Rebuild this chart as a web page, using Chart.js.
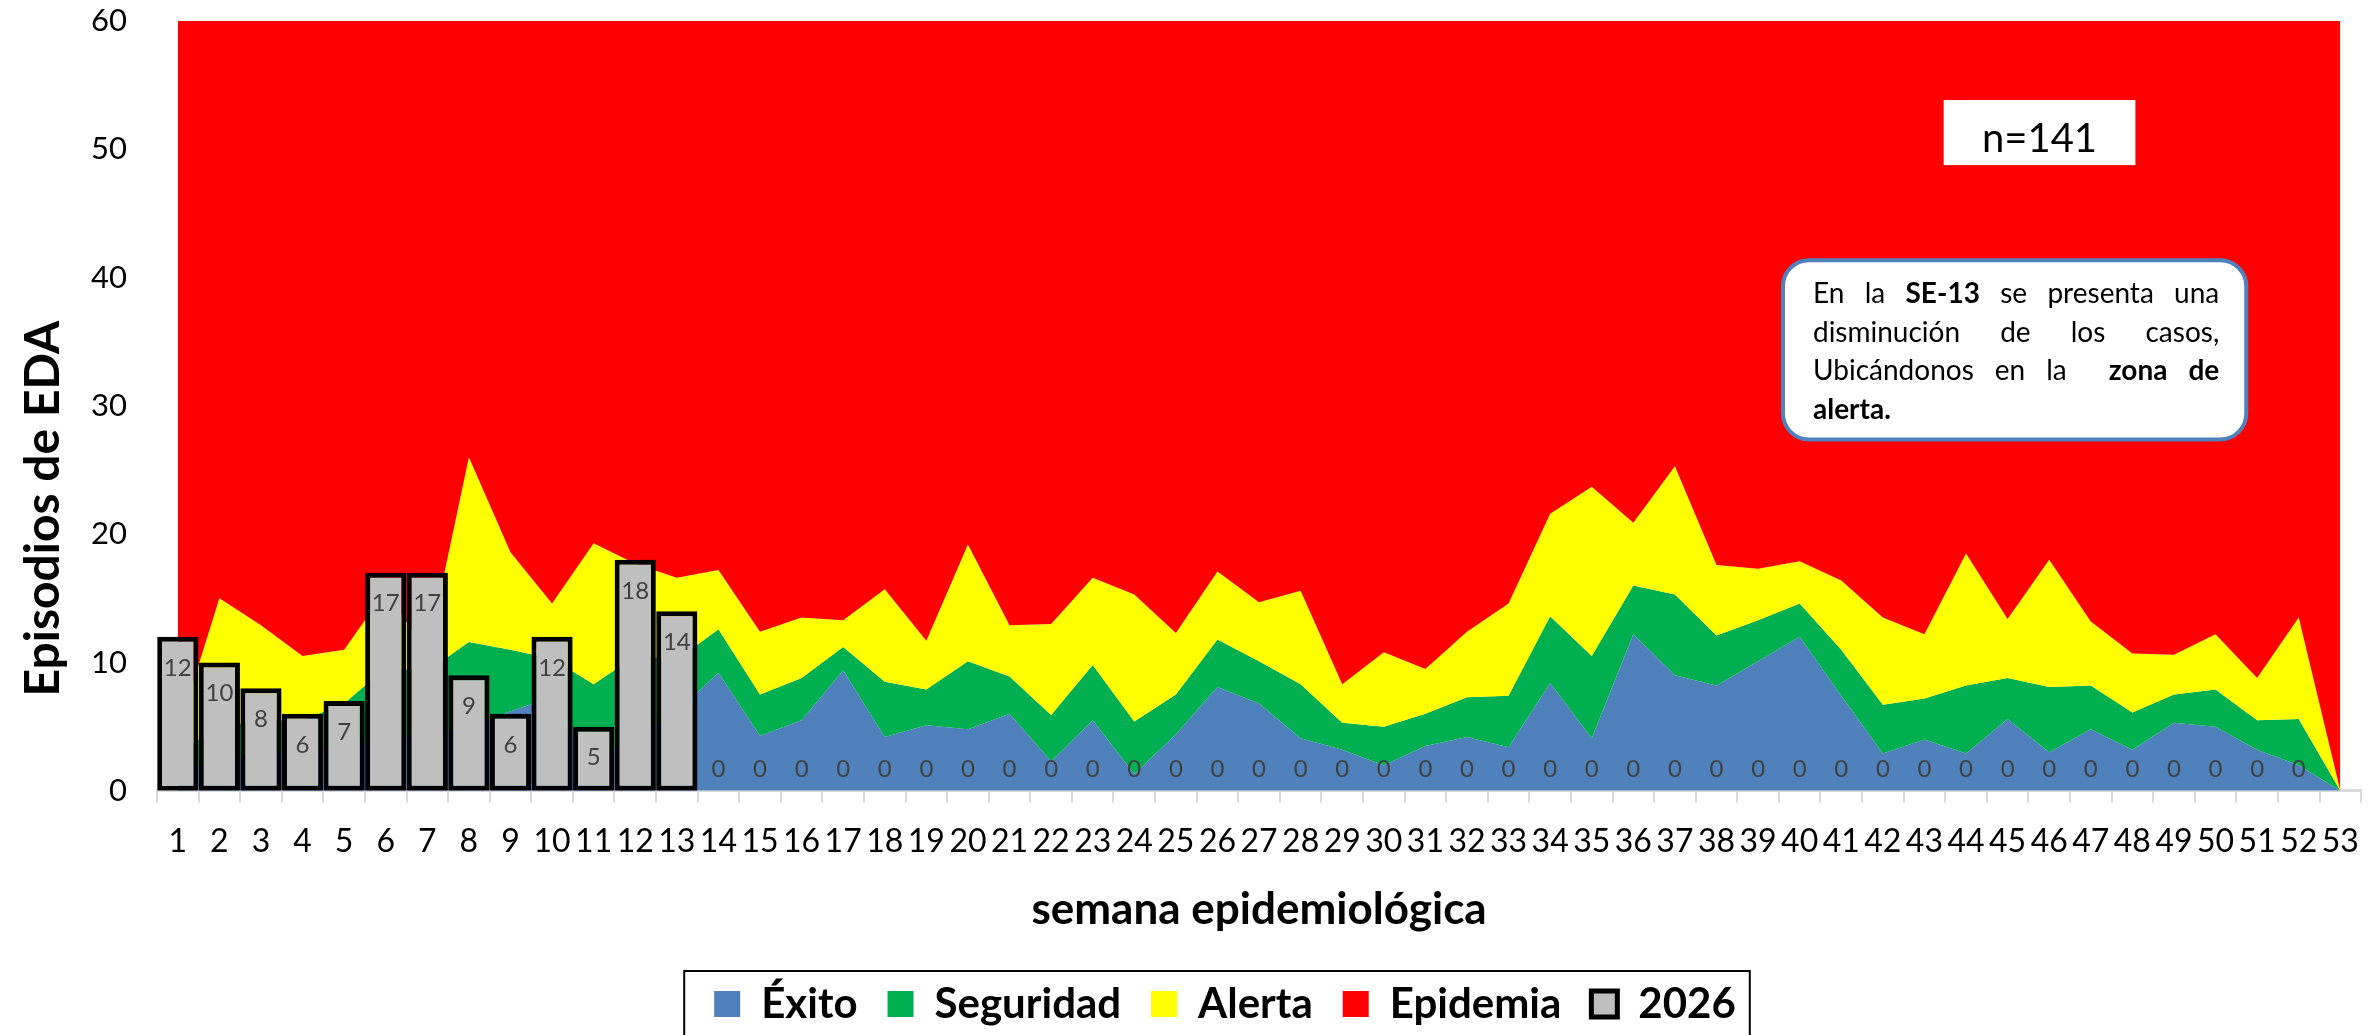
<!DOCTYPE html>
<html>
<head>
<meta charset="utf-8">
<script src="https://cdn.jsdelivr.net/npm/chart.js@4.4.1/dist/chart.umd.min.js"></script>
<style>
html, body { margin: 0; padding: 0; background: #fff; }
#wrap { width: 2379px; height: 1035px; position: relative; }
</style>
</head>
<body>
<div id="wrap"><canvas id="myChart"></canvas></div>
<script>
// semanas epidemiologicas 1..53
var semanas = ['1','2','3','4','5','6','7','8','9','10','11','12','13','14','15','16','17','18','19','20',
  '21','22','23','24','25','26','27','28','29','30','31','32','33','34','35','36','37','38','39','40',
  '41','42','43','44','45','46','47','48','49','50','51','52','53'];

// casos 2026 (barras)
var casos2026 = [12, 10, 8, 6, 7, 17, 17, 9, 6, 12, 5, 18, 14,
  0, 0, 0, 0, 0, 0, 0, 0, 0, 0, 0, 0, 0, 0, 0, 0, 0, 0, 0, 0, 0, 0, 0, 0, 0, 0,
  0, 0, 0, 0, 0, 0, 0, 0, 0, 0, 0, 0, 0, null];

// limites superiores de cada zona del canal endemico
var exito = [1.5, 2.5, 3.0, 3.0, 3.5, 4.0, 4.5, 5.0, 6.2, 7.3, 2.3, 4.5, 6.2, 9.2, 4.3, 5.5, 9.4, 4.2, 5.1, 4.8,
  6.0, 2.3, 5.5, 1.3, 4.4, 8.1, 6.8, 4.1, 3.2, 2.0, 3.5, 4.2, 3.4, 8.4, 4.1, 12.2, 9.0, 8.2, 10.1, 12.0,
  7.4, 2.9, 4.0, 2.9, 5.6, 3.0, 4.8, 3.2, 5.3, 5.0, 3.2, 2.0, 0];
var seguridad = [3.0, 5.0, 5.5, 5.5, 6.8, 9.6, 9.3, 11.6, 11.0, 10.3, 8.3, 10.5, 10.2, 12.6, 7.5, 8.8, 11.2, 8.5, 7.9, 10.1,
  8.9, 5.9, 9.8, 5.4, 7.5, 11.8, 10.1, 8.3, 5.3, 5.0, 6.0, 7.3, 7.4, 13.6, 10.5, 16.0, 15.3, 12.1, 13.3, 14.6,
  11.0, 6.7, 7.2, 8.2, 8.8, 8.1, 8.2, 6.1, 7.5, 7.9, 5.5, 5.6, 0];
var alerta = [4.6, 15.0, 12.9, 10.5, 11.0, 15.6, 10.7, 26.0, 18.6, 14.6, 19.3, 17.7, 16.6, 17.2, 12.4, 13.5, 13.3, 15.7, 11.7, 19.2,
  12.9, 13.0, 16.6, 15.3, 12.3, 17.1, 14.7, 15.6, 8.3, 10.8, 9.5, 12.4, 14.6, 21.6, 23.7, 20.9, 25.3, 17.6, 17.3, 17.9,
  16.4, 13.5, 12.2, 18.5, 13.4, 18.0, 13.2, 10.7, 10.6, 12.2, 8.8, 13.5, 0];
var epidemia = [60, 60, 60, 60, 60, 60, 60, 60, 60, 60, 60, 60, 60, 60, 60, 60, 60, 60, 60, 60,
  60, 60, 60, 60, 60, 60, 60, 60, 60, 60, 60, 60, 60, 60, 60, 60, 60, 60, 60, 60,
  60, 60, 60, 60, 60, 60, 60, 60, 60, 60, 60, 60, 60];

var yMin = 0, yMax = 60, yStep = 10;

var totalTexto = 'n=141';
var notaLineas = [
  [['En', 0], ['la', 0], ['SE-13', 1], ['se', 0], ['presenta', 0], ['una', 0]],
  [['disminución', 0], ['de', 0], ['los', 0], ['casos,', 0]],
  [['Ubicándonos', 0], ['en', 0], ['la', 0], ['', 0], ['zona', 1], ['de', 1]],
  [['alerta.', 1]]
];

Chart.defaults.font.family = 'Lato, "Open Sans", sans-serif';
Chart.defaults.color = '#000';

// numeros dentro de las barras
var etiquetasBarras = {
  id: 'etiquetasBarras',
  afterDatasetsDraw: function (chart) {
    var ctx = chart.ctx;
    var meta = chart.getDatasetMeta(4);
    ctx.save();
    ctx.font = '24px Lato';
    ctx.fillStyle = '#404040';
    ctx.textAlign = 'center';
    ctx.textBaseline = 'middle';
    meta.data.forEach(function (bar, i) {
      var v = casos2026[i];
      if (v === null) return;
      var y = v > 0 ? bar.y + 31 : bar.base - 22;
      ctx.fillText(String(v), bar.x, y);
    });
    ctx.restore();
  }
};

function lineaJustificada(ctx, palabras, x0, x1, y, ultima) {
  var fs = '28px Lato';
  var anchos = palabras.map(function (p) {
    ctx.font = (p[1] ? 'bold ' : '') + fs;
    return ctx.measureText(p[0]).width;
  });
  var suma = anchos.reduce(function (a, b) { return a + b; }, 0);
  var huecos = palabras.length - 1;
  ctx.font = fs;
  var esp = (ultima || huecos === 0) ? ctx.measureText(' ').width : (x1 - x0 - suma) / huecos;
  var x = x0;
  palabras.forEach(function (p, i) {
    ctx.font = (p[1] ? 'bold ' : '') + fs;
    ctx.fillText(p[0], x, y);
    x += anchos[i] + esp;
  });
}

function rectRedondo(ctx, x, y, w, h, r) {
  ctx.beginPath();
  ctx.moveTo(x + r, y);
  ctx.lineTo(x + w - r, y);
  ctx.arcTo(x + w, y, x + w, y + r, r);
  ctx.lineTo(x + w, y + h - r);
  ctx.arcTo(x + w, y + h, x + w - r, y + h, r);
  ctx.lineTo(x + r, y + h);
  ctx.arcTo(x, y + h, x, y + h - r, r);
  ctx.lineTo(x, y + r);
  ctx.arcTo(x, y, x + r, y, r);
  ctx.closePath();
}

var notas = {
  id: 'notas',
  afterDraw: function (chart) {
    var ctx = chart.ctx;
    var a = chart.chartArea;
    var w = a.right - a.left, h = a.bottom - a.top;
    ctx.save();

    // caja n=141
    var bx = a.left + 0.8106 * w, by = a.top + 0.1027 * h, bw = 0.087 * w, bh = 0.0845 * h;
    ctx.fillStyle = '#fff';
    ctx.fillRect(bx, by, bw, bh);
    ctx.fillStyle = '#000';
    ctx.font = '40px Lato';
    ctx.textAlign = 'center';
    ctx.textBaseline = 'alphabetic';
    ctx.fillText(totalTexto, bx + bw / 2, by + 52);

    // cuadro de texto
    var cx = a.left + 0.7377 * w, cy = a.top + 0.3108 * h;
    var cw = 0.2102 * w, ch = 0.2328 * h;
    rectRedondo(ctx, cx, cy, cw, ch, 26);
    ctx.fillStyle = '#fff';
    ctx.fill();
    ctx.lineWidth = 4;
    ctx.strokeStyle = '#4f81bd';
    ctx.stroke();
    ctx.fillStyle = '#000';
    ctx.textAlign = 'left';
    notaLineas.forEach(function (linea, i) {
      lineaJustificada(ctx, linea, cx + 30, cx + cw - 27, cy + 43 + i * 38.5, i === notaLineas.length - 1);
    });

    // titulo eje y
    ctx.save();
    ctx.translate(59, a.top + 0.6335 * h);
    ctx.rotate(-Math.PI / 2);
    ctx.font = 'bold 48px Lato';
    ctx.textAlign = 'center';
    ctx.textBaseline = 'alphabetic';
    ctx.fillText('Episodios de EDA', 0, 0);
    ctx.restore();

    // marco de la leyenda
    var hb = chart.legend.legendHitBoxes;
    if (hb && hb.length) {
      var l = hb[0].left, r = hb[hb.length - 1].left + hb[hb.length - 1].width;
      var mid = hb[0].top + hb[0].height / 2;
      ctx.lineWidth = 2;
      ctx.strokeStyle = '#000';
      ctx.strokeRect(l - 30, mid - 33, (r - l) + 44, 100);
    }
    ctx.restore();
  }
};

var ctx = document.getElementById('myChart').getContext('2d');
var myChart = new Chart(ctx, {
  type: 'bar',
  data: {
    labels: semanas,
    datasets: [
      { type: 'line', label: 'Éxito', data: exito, backgroundColor: '#4f81bd', borderColor: '#4f81bd',
        borderWidth: 0, pointRadius: 0, fill: 'origin', order: 4, tension: 0 },
      { type: 'line', label: 'Seguridad', data: seguridad, backgroundColor: '#00b050', borderColor: '#00b050',
        borderWidth: 0, pointRadius: 0, fill: '-1', order: 3, tension: 0 },
      { type: 'line', label: 'Alerta', data: alerta, backgroundColor: '#ffff00', borderColor: '#ffff00',
        borderWidth: 0, pointRadius: 0, fill: '-1', order: 2, tension: 0 },
      { type: 'line', label: 'Epidemia', data: epidemia, backgroundColor: '#ff0000', borderColor: '#ff0000',
        borderWidth: 0, pointRadius: 0, fill: '-1', order: 1, tension: 0 },
      { type: 'bar', label: '2026', data: casos2026, backgroundColor: '#bfbfbf', borderColor: '#000',
        borderWidth: 5, borderSkipped: false, barPercentage: 0.99, categoryPercentage: 1.0, order: 0 }
    ]
  },
  options: {
    responsive: true,
    maintainAspectRatio: false,
    animation: false,
    layout: { padding: { left: 86, right: 15, top: 21, bottom: 0 } },
    scales: {
      x: {
        offset: true,
        grid: { display: true, drawOnChartArea: false, drawTicks: true, tickLength: 12, color: '#d9d9d9', lineWidth: 2, offset: true },
        border: { display: true, color: '#d9d9d9', width: 3 },
        ticks: { autoSkip: false, maxRotation: 0, padding: 20, font: { size: 32 }, color: '#000' },
        title: { display: true, text: 'semana epidemiológica', font: { size: 44, weight: 'bold' }, color: '#000', padding: { top: 2, bottom: 17 } }
      },
      y: {
        min: yMin,
        max: yMax,
        grid: { display: false },
        border: { display: false },
        ticks: { stepSize: yStep, padding: 22, font: { size: 31 }, color: '#000' },
        afterFit: function (scale) {
          scale.width = 71;
          scale.paddingTop = 0;
          scale.paddingBottom = 0;
        }
      }
    },
    plugins: {
      tooltip: { enabled: false },
      legend: {
        display: true,
        position: 'bottom',
        labels: {
          boxWidth: 26,
          boxHeight: 26,
          padding: 30,
          font: { size: 42, weight: 'bold' },
          color: '#000',
          sort: function (a, b) { return a.datasetIndex - b.datasetIndex; }
        }
      }
    }
  },
  plugins: [etiquetasBarras, notas]
});
</script>
</body>
</html>
